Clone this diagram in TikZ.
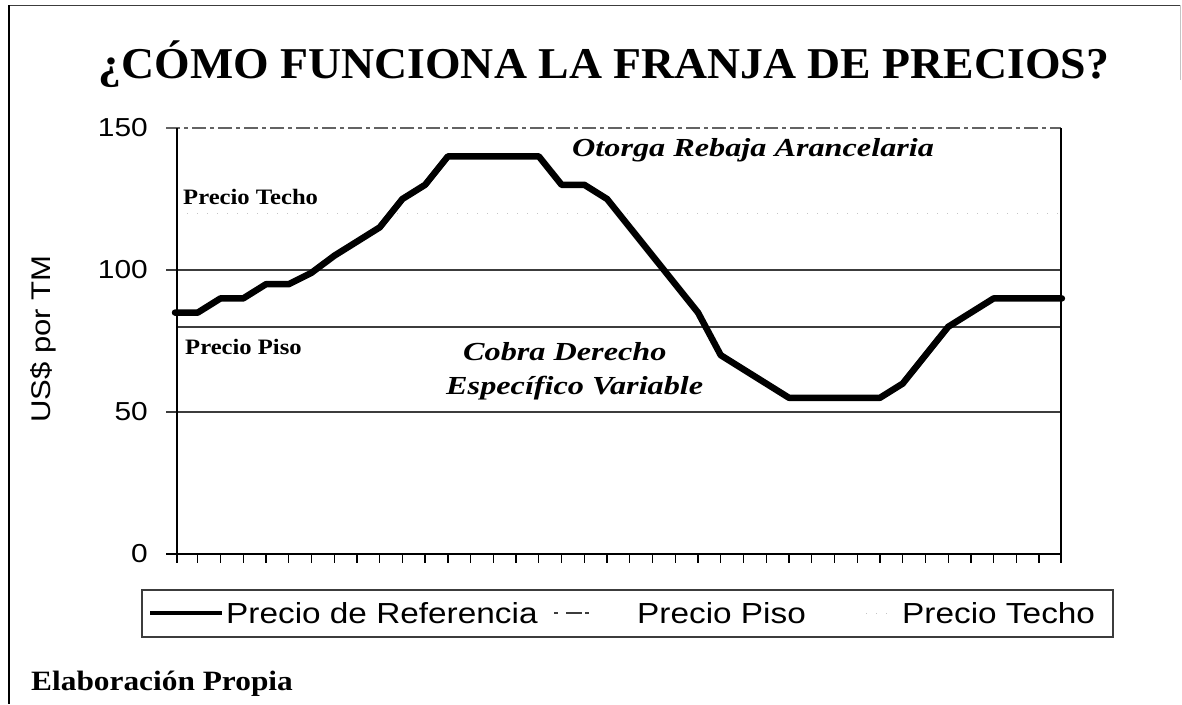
\documentclass[tikz,border=0pt]{standalone}
\usepackage{fontspec}
\setmainfont{Liberation Serif}
\newfontfamily\serifwide[FakeStretch=1.12]{Liberation Serif}
\newfontfamily\serifcall[FakeStretch=1.24]{Liberation Serif}
\newfontfamily\seriftitle[FakeStretch=1.04]{Liberation Serif}
\newfontfamily\sanswide[FakeStretch=1.15]{Liberation Sans}
\usepackage{tikz}
\usetikzlibrary{calc}
\definecolor{ink}{HTML}{000000}
\definecolor{gridc}{HTML}{3C3C3C}
\definecolor{faint}{HTML}{C4C4C4}
\tikzset{
  curve/.style={draw=ink, line width=6.5pt, line cap=round, line join=round},
  axisl/.style={draw=ink, line width=1.6pt},
  gridl/.style={draw=gridc, line width=1.5pt},
  topl/.style={draw=gridc!80, line width=1.2pt, dash pattern=on 14pt off 4pt on 4pt off 4pt},
  techo/.style={draw=faint, line width=1pt, dash pattern=on 1pt off 9pt},
  num/.style={font=\sanswide\fontsize{26}{30}\selectfont, anchor=east, inner sep=0pt},
  leg/.style={font=\sanswide\fontsize{29}{32}\selectfont, anchor=west, inner sep=0pt},
  note/.style={font=\serifwide\bfseries\fontsize{22}{26}\selectfont, anchor=west, inner sep=0pt},
  call/.style={font=\serifcall\bfseries\itshape\fontsize{26}{30}\selectfont, anchor=west, inner sep=0pt},
}
\begin{document}
\begin{tikzpicture}[x=1pt, y=-1pt]
  \useasboundingbox (0,0) rectangle (1182,704);
  \def\xs{22.74}
  % frame
  \draw[draw=gridc, line width=1pt] (9,5) -- (1180,5);
  \draw[draw=faint, line width=1pt] (1180,5) -- (1180,80);
  \draw[draw=ink, line width=2.2pt] (9,5) -- (9,704);
  \node[font=\seriftitle\bfseries\fontsize{44}{50}\selectfont] (title) at (604,64) {¿CÓMO FUNCIONA LA FRANJA DE PRECIOS?};
  % grid and bands
  \draw[topl] (166,128) -- (1061,128);
  \draw[gridl] (166,270) -- (1061,270);
  \draw[gridl] (166,412) -- (1061,412);
  \draw[gridl] (177,327) -- (1061,327);
  \draw[techo] (177,213) -- (1061,213);
  \draw[axisl] (166,554) -- (1061,554);
  \draw[axisl] (177,128) -- (177,563);
  \draw[axisl] (1061,128) -- (1061,563);
  \foreach \i in {1,...,38}
    \draw[axisl, line width=1.3pt] ({175+\i*\xs},554) -- ++(0,9);
  \node[num] (n150) at (148,128) {150};
  \node[num] (n100) at (148,270) {100};
  \node[num] (n50) at (148,412) {50};
  \node[num] (n0) at (148,554) {0};
  \node[font=\sanswide\fontsize{27}{30}\selectfont, rotate=90] (ylab) at (43,339) {US\$ por TM};
  % reference price
  \foreach \v [count=\i from 0] in {85,85,90,90,95,95,99,105,110,115,125,130,140,140,140,140,140,130,130,125,
      115,105,95,85,70,65,60,55,55,55,55,55,60,70,80,85,90,90,90,90}
    \coordinate (p\i) at ({175+\i*\xs},{554-2.84*\v});
  \draw[curve] (p0) \foreach \i in {1,...,39} {-- (p\i)};
  \node[note] (techolab) at (183,197) {Precio Techo};
  \node[note] (pisolab) at (185,347) {Precio Piso};
  \node[call] (otorga) at (572,150) {Otorga Rebaja Arancelaria};
  \node[call] (cobra) at (463,352) {Cobra Derecho};
  \node[call] (espec) at (446,388) {Específico Variable};
  % legend
  \draw[draw=gridc, line width=1.4pt] (142,590) rectangle (1113,637);
  \draw[draw=ink, line width=4pt] (150,613) -- (222,613);
  \node[leg] (lref) at (226,613) {Precio de Referencia};
  \draw[draw=gridc, line width=1.2pt, dash pattern=on 4pt off 8pt on 16pt off 3pt] (554,613) -- (594,613);
  \node[leg] (lpiso) at (637,613) {Precio Piso};
  \draw[techo] (866,613) -- (894,613);
  \node[leg] (ltecho) at (902,613) {Precio Techo};
  \node[font=\serifwide\bfseries\fontsize{28}{30}\selectfont, anchor=west, inner sep=0pt] (fuente) at (31,684) {Elaboración Propia};
\end{tikzpicture}
\end{document}
